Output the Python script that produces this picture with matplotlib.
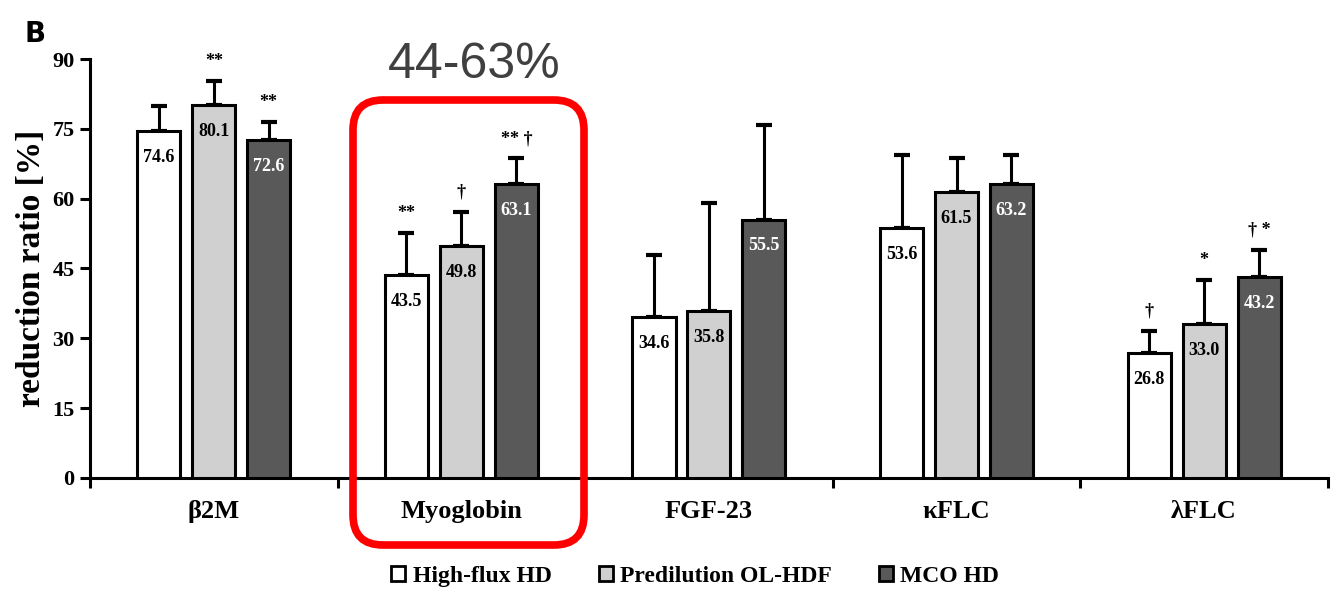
import numpy as np
import matplotlib.pyplot as plt
from matplotlib.patches import FancyBboxPatch, Patch

markers = ['\u03b22M', 'Myoglobin', 'FGF-23', '\u03baFLC', '\u03bbFLC']
methods = ['High-flux HD', 'Predilution OL-HDF', 'MCO HD']
colors = ['#ffffff', '#d0d0d0', '#595959']
text_colors = ['black', 'black', 'white']

hf_hd = [74.6, 43.5, 34.6, 53.6, 26.8]
ol_hdf = [80.1, 49.8, 35.8, 61.5, 33.0]
mco_hd = [72.6, 63.1, 55.5, 63.2, 43.2]

hf_sd = [5.4, 9.2, 13.3, 15.8, 4.8]
ol_sd = [5.2, 7.4, 23.3, 7.2, 9.5]
mco_sd = [3.9, 5.6, 20.3, 6.2, 5.8]

hf_sig = ['', '**', '', '', '\u2020']
ol_sig = ['**', '\u2020', '', '', '*']
mco_sig = ['**', '** \u2020', '', '', '\u2020 *']

means = [hf_hd, ol_hdf, mco_hd]
sds = [hf_sd, ol_sd, mco_sd]
sigs = [hf_sig, ol_sig, mco_sig]

serif = 'Liberation Serif'

fig = plt.figure(figsize=(13.37, 5.93), dpi=100)
ax = fig.add_axes([0.0673, 0.194, 0.9259, 0.7065])

x = np.arange(len(markers)) + 0.5
width = 0.174
offsets = [-0.222, 0, 0.222]

for k in range(3):
    xs = x + offsets[k]
    ax.bar(xs, means[k], width, color=colors[k], edgecolor='black', linewidth=2.2, zorder=3)
    ax.errorbar(xs, means[k], yerr=[np.zeros(5), sds[k]], fmt='none', ecolor='black',
                elinewidth=2.2, capsize=6, capthick=3, zorder=2)
    for i in range(5):
        ax.annotate('%.1f' % means[k][i], (xs[i], means[k][i]), xytext=(0, -19),
                    textcoords='offset points', ha='center', va='center',
                    fontsize=13, fontweight='bold', family=serif, color=text_colors[k], zorder=4)
        if sigs[k][i]:
            ax.annotate(sigs[k][i], (xs[i], means[k][i] + sds[k][i]), xytext=(0, 14),
                        textcoords='offset points', ha='center', va='center',
                        fontsize=13, fontweight='bold', family=serif, color='black')

ax.set_xlim(0, 5)
ax.set_ylim(0, 90)
ax.set_yticks(np.arange(0, 91, 15))
ax.set_xticks(x)
ax.set_xticklabels(markers)
ax.set_xticks(np.arange(0, 6), minor=True)
ax.tick_params(axis='x', which='major', length=0, pad=16)
ax.tick_params(axis='x', which='minor', length=7, width=2.2, direction='out')
ax.tick_params(axis='y', length=7, width=2.2, direction='out', pad=4)
for lab in ax.get_yticklabels():
    lab.set_family(serif)
    lab.set_fontweight('bold')
    lab.set_fontsize(16)
for lab in ax.get_xticklabels():
    lab.set_family(serif)
    lab.set_fontweight('bold')
    lab.set_fontsize(19)
ax.spines['top'].set_visible(False)
ax.spines['right'].set_visible(False)
ax.spines['left'].set_linewidth(2.2)
ax.spines['bottom'].set_linewidth(2.2)
ax.set_ylabel('reduction ratio [%]', family=serif, fontweight='bold', fontsize=24, labelpad=4)

handles = [Patch(facecolor=c, edgecolor='black', linewidth=2) for c in colors]
fig.legend(handles, methods, loc='center', bbox_to_anchor=(0.52, 0.028), ncol=3,
           frameon=False, handlelength=0.6, handleheight=0.6, handletextpad=0.3,
           columnspacing=2.0, prop={'family': serif, 'weight': 'bold', 'size': 17})

fig.text(0.018, 0.93, 'B', fontsize=20, fontweight='bold', family='DejaVu Sans')
fig.text(0.355, 0.89, '44-63%', fontsize=36, family='Liberation Sans', color='#404040',
         ha='center', va='center')

box = FancyBboxPatch((3.53, 0.48), 2.31, 4.45, boxstyle='round,pad=0,rounding_size=0.3',
                     transform=fig.dpi_scale_trans, facecolor='none', edgecolor='#ff0000',
                     linewidth=5.5, zorder=10)
fig.add_artist(box)

fig.savefig('out.png', dpi=100)
